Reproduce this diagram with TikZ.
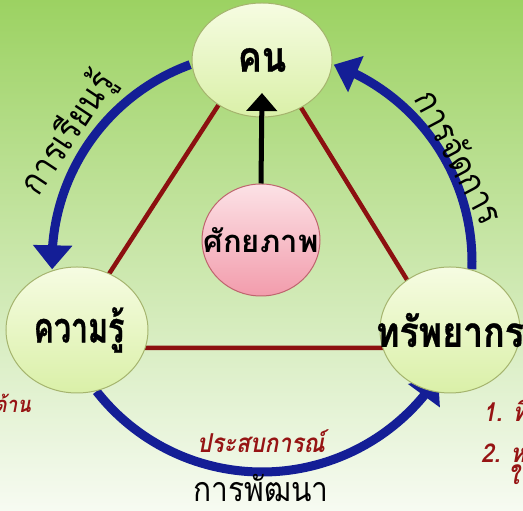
\documentclass[tikz,border=0pt]{standalone}
\usepackage{fontspec}
\newfontfamily\thai[Script=Thai]{Loma}
\newfontfamily\thaiN[Script=Thai,FakeStretch=0.88]{Loma}
\newfontfamily\thaiB[Script=Thai,FakeStretch=0.85,FakeBold=0.8]{Loma}
\usetikzlibrary{arrows.meta,bending,shapes.geometric}
\definecolor{bgtop}{RGB}{156,210,98}
\definecolor{bgmid}{RGB}{196,228,150}
\definecolor{bgbot}{RGB}{247,251,242}
\definecolor{arcblue}{RGB}{20,30,150}
\definecolor{tri}{RGB}{140,16,16}
\definecolor{lbl}{RGB}{150,20,20}
\definecolor{bubtop}{RGB}{246,252,226}
\definecolor{bubbot}{RGB}{218,240,168}
\definecolor{bubline}{RGB}{165,180,110}
\definecolor{pinktop}{RGB}{252,226,230}
\definecolor{pinkbot}{RGB}{242,156,172}
\definecolor{pinkline}{RGB}{190,100,110}
\begin{document}
\begin{tikzpicture}[x=1pt,y=1pt,
  bubble/.style={ellipse, draw=bubline, line width=1pt, top color=bubtop, bottom color=bubbot, inner sep=0pt},
  pinkbubble/.style={ellipse, draw=pinkline, line width=1pt, top color=pinktop, bottom color=pinkbot, inner sep=0pt},
  bigtxt/.style={font=\thaiB\bfseries\fontsize{42}{48}\selectfont},
  arctxt/.style={font=\thaiN\fontsize{36}{40}\selectfont},
  redtxt/.style={font=\thaiN\bfseries\itshape\fontsize{26}{30}\selectfont, text=lbl},
  blueline/.style={draw=arcblue, line width=9pt},
  bluetip/.style={-{Triangle[width=38pt,length=24pt]}},
  triline/.style={draw=tri, line width=4.5pt}]
\useasboundingbox (0,0) rectangle (523,511);
\clip (0,0) rectangle (523,511);
\shade[top color=bgtop, middle color=bgmid, bottom color=bgbot] (0,0) rectangle (523,511);
\coordinate (O) at (262,249);
% triangle corners
\coordinate (tA) at (260,470);
\coordinate (tB) at (61,163);
\coordinate (tC) at (449,163);
\draw[triline] (tA) -- (tB) -- (tC) -- cycle;
% blue arcs
\draw[blueline, bluetip] ([shift={(110:210)}]O) arc[start angle=110, end angle=182, radius=210];
\draw[blueline, bluetip] ([shift={(-2:210)}]O) arc[start angle=-2, end angle=70, radius=210];
\draw[blueline, bluetip] ([shift={(218:210)}]O) arc[start angle=218, end angle=327, radius=210];
% bubbles
\node[bubble, minimum width=140pt, minimum height=114pt] (kn) at (262,451) {};
\node[bubble, minimum width=142pt, minimum height=126pt] (kr) at (77,181) {};
\node[bubble, minimum width=140pt, minimum height=126pt] (sp) at (450,181) {};
\node[pinkbubble, minimum width=118pt, minimum height=112pt] (pot) at (261,271) {};
\node[bigtxt] (knt) at (kn.center) {คน};
\node[bigtxt, xscale=0.85, transform shape] (krt) at (79,181) {ความรู้};
\node[bigtxt] (spt) at (sp.center) {ทรัพยากร};
\node[font=\thai\bfseries\fontsize{31}{36}\selectfont] (pott) at (pot.center) {ศักยภาพ};
% black arrow
\draw[line width=5pt, -{Triangle[width=30pt,length=18pt]}] (pot.north) -- ([yshift=-33pt]kn.center);
% arc labels
\node[arctxt, rotate=56.5] (l1) at ([shift={(146.5:232)}]O) {การเรียนรู้};
\node[arctxt, rotate=-62] (l2) at ([shift={(28:225)}]O) {การจัดการ};
\node[redtxt, anchor=base] (l3) at (261,58) {ประสบการณ์};
\node[font=\thaiN\fontsize{34}{38}\selectfont, anchor=base] (l4) at (261,9) {การพัฒนา};
% partial side texts
\node[redtxt, font=\thaiN\bfseries\itshape\fontsize{22}{26}\selectfont, anchor=base east, inner sep=0pt] (s1) at (31,98) {ด้าน};
\node[redtxt, anchor=base west, inner sep=0pt] (s2) at (483,89) {1. ทิ};
\node[redtxt, anchor=base west, inner sep=0pt] (s3) at (481,48) {2. ห};
\node[redtxt, anchor=base west, inner sep=0pt] (s4) at (508,26) {ใ};
\end{tikzpicture}
\end{document}
